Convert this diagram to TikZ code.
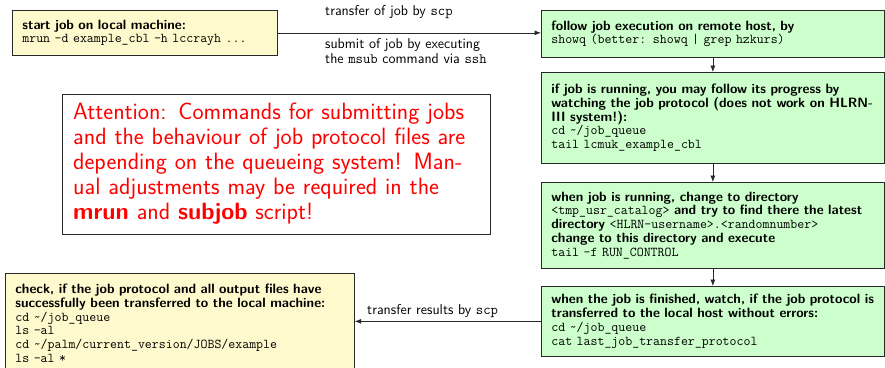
\documentclass[tikz,border=0pt]{standalone}
\usetikzlibrary{arrows.meta}
\renewcommand{\familydefault}{\sfdefault}
\newcommand{\bodysize}{\fontsize{13.5}{13.75}\selectfont}
\newcommand{\labelsize}{\fontsize{14.3}{14.2}\selectfont}
\newcommand{\notesize}{\fontsize{23.6}{25}\selectfont}
\definecolor{localfill}{RGB}{255,250,205}
\definecolor{remotefill}{RGB}{204,255,204}
\definecolor{framecol}{RGB}{40,40,40}
\begin{document}
\begin{tikzpicture}[x=1pt,y=-1pt,
  flowbox/.style={draw=framecol, line width=0.7pt, anchor=north west,
    inner xsep=10pt, inner ysep=3pt, align=left, font=\bodysize},
  localbox/.style={flowbox, fill=localfill},
  remotebox/.style={flowbox, fill=remotefill, text width=323pt, minimum height=#1},
  flowarrow/.style={-{Latex[length=6.5pt,width=5pt]}, line width=0.7pt, draw=framecol},
  lbl/.style={anchor=west, inner sep=0pt, font=\labelsize, align=left}
]
\useasboundingbox (0,0) rectangle (885,367);

% local side
\node[localbox, text width=245pt, minimum height=45pt] (start) at (12,10)
  {\textbf{start job on local machine:}\\
   \texttt{mrun -d example\_cbl -h lccrayh ...}};

\node[localbox, text width=329pt, minimum height=100pt] (check) at (5,273)
  {\textbf{check, if the job protocol and all output files have}\\
   \textbf{successfully been transferred to the local machine:}\\
   \texttt{cd \~{}/job\_queue}\\
   \texttt{ls -al}\\
   \texttt{cd \~{}/palm/current\_version/JOBS/example}\\
   \texttt{ls -al *}};

% remote side
\node[remotebox=47pt] (watch) at (541,10)
  {\textbf{follow job execution on remote host, by}\\
   \texttt{showq (better: showq | grep hzkurs)}};

\node[remotebox=91pt] (progress) at (541,72)
  {\textbf{if job is running, you may follow its progress by}\\
   \textbf{watching the job protocol (does not work on HLRN-}\\
   \textbf{III system!):}\\
   \texttt{cd \~{}/job\_queue}\\
   \texttt{tail lcmuk\_example\_cbl}};

\node[remotebox=86pt] (rundir) at (541,182)
  {\textbf{when job is running, change to directory}\\
   \texttt{<tmp\_usr\_catalog>} \textbf{and try to find there the latest}\\
   \textbf{directory} \texttt{<HLRN-username>.<randomnumber>}\\
   \textbf{change to this directory and execute}\\
   \texttt{tail -f RUN\_CONTROL}};

\node[remotebox=70pt] (finished) at (541,286)
  {\textbf{when the job is finished, watch, if the job protocol is}\\
   \textbf{transferred to the local host without errors:}\\
   \texttt{cd \~{}/job\_queue}\\
   \texttt{cat last\_job\_transfer\_protocol}};

% note on queueing systems
\node[draw=framecol, line width=0.7pt, anchor=north west, minimum width=428pt,
  minimum height=140pt, inner sep=0pt] (noteframe) at (62,94) {};
\node[anchor=north west, inner sep=0pt, text width=410pt, align=left,
  text=red, font=\notesize] (note) at (73,103)
  {Attention: Commands for submitting jobs\\
   and the behaviour of job protocol files are\\
   depending on the queueing system! Man-\\
   ual adjustments may be required in the\\
   \textbf{mrun} and \textbf{subjob} script!};

% connectors
\draw[flowarrow] (start) -- (start -| watch.west);
\draw[flowarrow] (watch) -- (progress);
\draw[flowarrow] (progress) -- (rundir);
\draw[flowarrow] (rundir) -- (finished);
\draw[flowarrow] (finished) -- (finished -| check.east);

% connector labels
\node[lbl] (scpjob) at (325,12) {transfer of job by \texttt{scp}};
\node[lbl] (sshjob) at (325,51) {submit of job by executing\\
  the \texttt{msub} command via \texttt{ssh}};
\node[lbl] (scpres) at (367,311) {transfer results by \texttt{scp}};
\end{tikzpicture}
\end{document}
